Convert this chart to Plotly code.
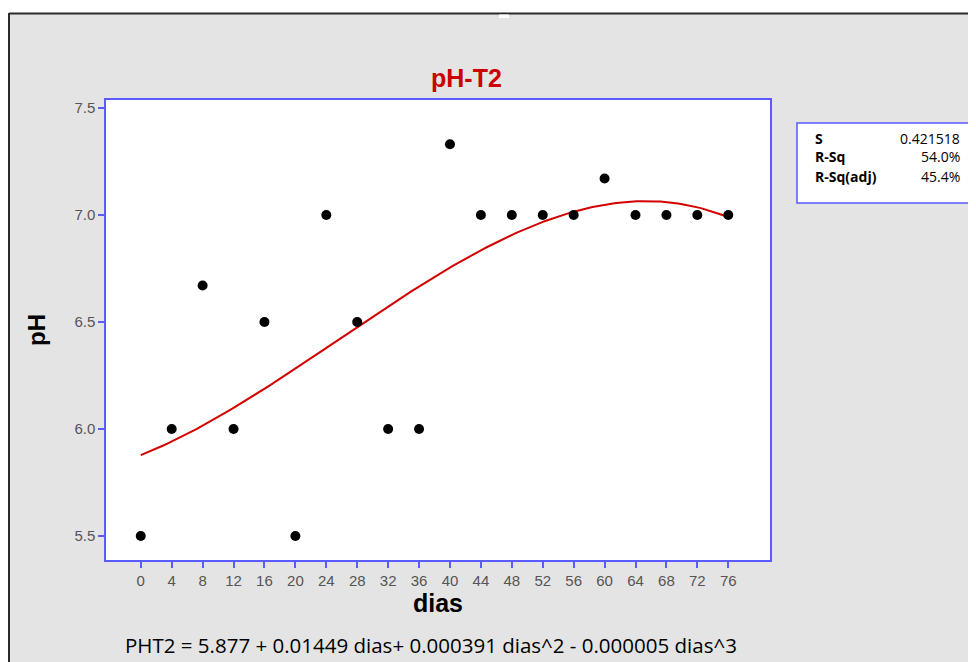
import numpy as np
import plotly.graph_objects as go

dias = [0, 4, 8, 12, 16, 20, 24, 28, 32, 36, 40, 44, 48, 52, 56, 60, 64, 68, 72, 76]
ph = [5.5, 6.0, 6.67, 6.0, 6.5, 5.5, 7.0, 6.5, 6.0, 6.0, 7.33, 7.0, 7.0, 7.0, 7.0, 7.17, 7.0, 7.0, 7.0, 7.0]
x_ticks = list(range(0, 80, 4))
y_ticks = [5.5, 6.0, 6.5, 7.0, 7.5]
stats_labels = ["S", "R-Sq", "R-Sq(adj)"]
stats_values = ["0.421518", "54.0%", "45.4%"]
equation = "PHT2 = 5.877 + 0.01449 dias+ 0.000391 dias^2 - 0.000005 dias^3"

coef = np.polyfit(dias, ph, 3)
xf = np.linspace(min(dias), max(dias), 200)
yf = np.polyval(coef, xf)

OFF = 8  # page body margin
W, H = 976, 662 - OFF
L, R, T, B = 106 - OFF, 770 - OFF, 100 - OFF, 560 - OFF


def px(x):
    return (x - OFF - L) / (R - L)


def py(y):
    return (B - (y - OFF)) / (B - T)


fig = go.Figure()
fig.add_trace(go.Scatter(x=xf, y=yf, mode="lines", line=dict(color="#d40000", width=2),
                         hoverinfo="skip", showlegend=False))
fig.add_trace(go.Scatter(x=dias, y=ph, mode="markers",
                         marker=dict(color="black", size=10), showlegend=False))

axis_common = dict(showline=True, linecolor="#5a5aff", linewidth=1.5, mirror=True,
                   ticks="outside", tickcolor="#5a5aff", ticklen=6, tickwidth=2,
                   showgrid=False, zeroline=False,
                   tickfont=dict(family="Liberation Sans Narrow, Liberation Sans, Arial", size=15, color="#555555"))

fig.update_layout(
    width=W, height=H,
    margin=dict(l=L, r=W - R, t=T, b=H - B),
    paper_bgcolor="#e4e4e4", plot_bgcolor="white",
    showlegend=False,
    xaxis=dict(range=[-4.5, 81.4], tickvals=x_ticks, ticktext=[str(v) for v in x_ticks],
               title=dict(text="<b>dias</b>", font=dict(family="Liberation Sans, Arial", size=25, color="black"),
                          standoff=6),
               **axis_common),
    yaxis=dict(range=[5.388, 7.537], tickvals=y_ticks, ticktext=[f"{v:.1f}" for v in y_ticks],
               title=dict(text="<b>pH</b>", font=dict(family="Liberation Sans, Arial", size=24, color="black"),
                          standoff=22),
               **axis_common),
)

shapes = [
    dict(type="rect", xref="paper", yref="paper", x0=px(0), x1=px(990), y0=py(13), y1=py(0),
         fillcolor="white", line=dict(width=0), layer="below"),
    dict(type="line", xref="paper", yref="paper", x0=px(9), x1=px(990), y0=py(13.5), y1=py(13.5),
         line=dict(color="#2a2a2a", width=2)),
    dict(type="line", xref="paper", yref="paper", x0=px(9), x1=px(9), y0=py(13), y1=py(680),
         line=dict(color="#2a2a2a", width=2)),
    dict(type="rect", xref="paper", yref="paper", x0=px(499), x1=px(509), y0=py(18), y1=py(14.5),
         fillcolor="white", line=dict(width=0)),
    dict(type="rect", xref="paper", yref="paper", x0=px(797), x1=px(990), y0=py(203), y1=py(123),
         fillcolor="white", line=dict(color="#5a5aff", width=1.5)),
]
fig.update_layout(shapes=shapes)

fig.add_annotation(xref="paper", yref="paper", x=px(466), y=py(78), text="<b>pH-T2</b>",
                   showarrow=False, xanchor="center", yanchor="middle",
                   font=dict(family="Liberation Sans, Arial", size=25, color="#cc0000"))

stat_font = dict(family="Open Sans, Noto Sans, DejaVu Sans", size=14, color="black")
for i, (lab, val) in enumerate(zip(stats_labels, stats_values)):
    yy = 138 + i * 19
    fig.add_annotation(xref="paper", yref="paper", x=px(813), y=py(yy), text=f"<b>{lab}</b>",
                       showarrow=False, xanchor="left", yanchor="middle", font=stat_font)
    fig.add_annotation(xref="paper", yref="paper", x=px(962), y=py(yy), text=val,
                       showarrow=False, xanchor="right", yanchor="middle", font=stat_font)

fig.add_annotation(xref="paper", yref="paper", x=px(123), y=py(645), text=equation,
                   showarrow=False, xanchor="left", yanchor="middle",
                   font=dict(family="Open Sans, Noto Sans, DejaVu Sans", size=20.5, color="black"))

fig.write_html("out.html")
